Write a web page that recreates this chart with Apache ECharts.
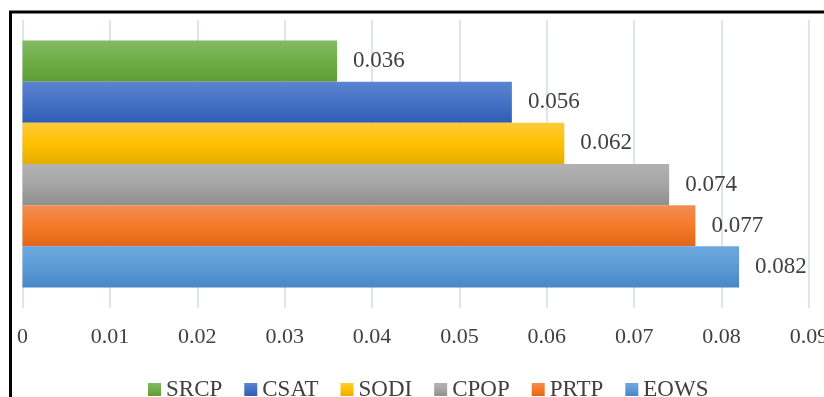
<!DOCTYPE html>
<html>
<head>
<meta charset="utf-8">
<script src="https://cdn.jsdelivr.net/npm/echarts@6/dist/echarts.min.js"></script>
<style>
  html, body { margin: 0; padding: 0; background: #fff; }
  #chart { width: 824px; height: 397px; }
</style>
</head>
<body>
<div id="chart"></div>
<script>
// Indicator names (legend order, top bar first) and their weights
const seriesNames = ['SRCP', 'CSAT', 'SODI', 'CPOP', 'PRTP', 'EOWS'];
const seriesValues = [0.036, 0.056, 0.062, 0.074, 0.077, 0.082];
const categories = ['Weight'];
const axisTicks = [0, 0.01, 0.02, 0.03, 0.04, 0.05, 0.06, 0.07, 0.08, 0.09];

// Gradient stops per bar: lighter top, base middle, darker bottom
const barShades = [
  ['#83bb63', '#70ad47', '#5e9c37'],
  ['#5b83d2', '#4472c4', '#2f5cb4'],
  ['#ffcb3a', '#ffc000', '#e5ad00'],
  ['#b2b2b2', '#a5a5a5', '#8f8f8f'],
  ['#f28d55', '#f47b28', '#e2661a'],
  ['#6ca8de', '#5b9bd5', '#4887c8']
];

const FONT = "'Liberation Serif', 'Times New Roman', serif";

function gradient(shades) {
  return new echarts.graphic.LinearGradient(0, 0, 0, 1, [
    { offset: 0, color: shades[0] },
    { offset: 0.5, color: shades[1] },
    { offset: 1, color: shades[2] }
  ]);
}

const series = seriesNames.map((name, i) => ({
  name: name,
  type: 'bar',
  data: [seriesValues[i]],
  barGap: '0%',
  barCategoryGap: '14.3%',
  itemStyle: { color: gradient(barShades[i]) },
  label: {
    show: true,
    position: 'right',
    distance: 16,
    fontFamily: FONT,
    fontSize: 23,
    color: '#404040',
    formatter: p => String(p.value)
  }
}));

const chart = echarts.init(document.getElementById('chart'), null, { renderer: 'canvas' });
chart.setOption({
  animation: false,
  backgroundColor: '#ffffff',
  grid: {
    left: 22.5, right: 15, top: 20, bottom: 89,
    containLabel: false,
    outerBoundsMode: 'none'
  },
  xAxis: {
    type: 'value',
    min: axisTicks[0],
    max: axisTicks[axisTicks.length - 1],
    interval: 0.01,
    axisLine: { show: false },
    axisTick: { show: false },
    splitLine: { show: true, lineStyle: { color: '#dfe3ec', width: 2 } },
    axisLabel: {
      margin: 18,
      fontFamily: FONT,
      fontSize: 22,
      color: '#404040',
      hideOverlap: false,
      formatter: v => String(+v.toFixed(2))
    }
  },
  yAxis: {
    type: 'category',
    data: categories,
    inverse: true,
    axisLine: { show: false },
    axisTick: { show: false },
    axisLabel: { show: false },
    splitLine: { show: false }
  },
  legend: {
    data: seriesNames,
    left: 143,
    top: 373,
    itemWidth: 13,
    itemHeight: 13,
    itemGap: 22,
    icon: 'rect',
    textStyle: { fontFamily: FONT, fontSize: 23, color: '#404040' }
  },
  graphic: [{
    type: 'rect',
    silent: true,
    shape: { x: 10.5, y: 12, width: 900, height: 500 },
    style: { fill: 'none', stroke: '#000000', lineWidth: 3 }
  }],
  series: series
});
</script>
</body>
</html>
